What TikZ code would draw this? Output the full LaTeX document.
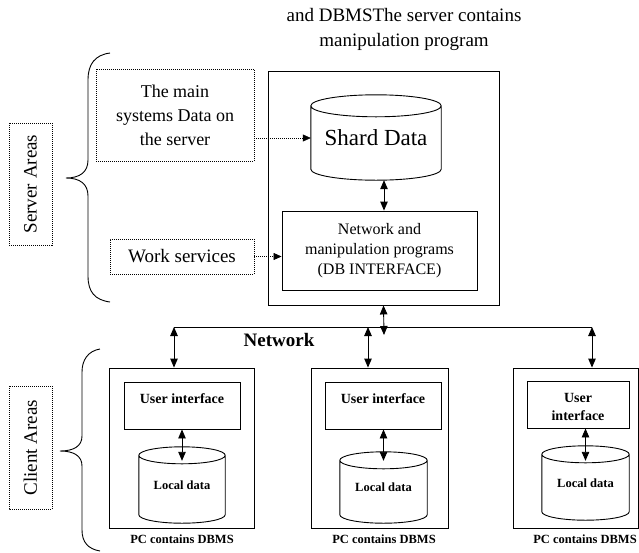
\documentclass[tikz,border=0pt]{standalone}
\usepackage{fontspec}
\setmainfont{Liberation Serif}
\usetikzlibrary{arrows.meta,calc}

% outline of a database cylinder fitted to a named rectangular node
\newcommand\drawcyl[2]{%
  \draw[line width=0.9pt] let \p1=(#1.north west), \p2=(#1.south east), \n1={(\x2-\x1)/2} in
    (\x1,\y1-#2pt) -- (\x1,\y2+#2pt)
    arc[start angle=180,end angle=360,x radius=\n1,y radius=#2pt] -- (\x2,\y1-#2pt)
    (\x1+\n1,\y1-#2pt) ellipse[x radius=\n1,y radius=#2pt];}

\begin{document}
\begin{tikzpicture}[x=1pt,y=-1pt,
  box/.style={draw,line width=0.9pt,inner sep=0pt},
  dotbox/.style={draw,line width=0.6pt,dash pattern=on 1pt off 1pt,inner sep=0pt,align=center},
  cylbox/.style={inner sep=0pt},
  tip/.tip={Triangle[length=9pt,width=7.5pt]},
  dtip/.tip={Triangle[length=8pt,width=7pt]},
  dbl/.style={line width=0.9pt,tip-tip},
  dotarrow/.style={line width=0.6pt,dash pattern=on 1pt off 1pt,-dtip},
  big/.style={font=\fontsize{19}{24}\selectfont},
  mid/.style={font=\fontsize{16}{20}\selectfont,align=center},
  bsmall/.style={font=\bfseries\fontsize{14}{18}\selectfont,align=center},
  bcap/.style={font=\bfseries\fontsize{12.5}{15}\selectfont},
  brace/.style={line width=0.9pt}]

\useasboundingbox (0,0) rectangle (639,552);

% heading
\node[align=center,font=\fontsize{19}{25}\selectfont] (title) at (404,29)
  {and DBMSThe server contains\\manipulation program};

% side labels
\node[dotbox,big,rotate=90,minimum width=122,minimum height=43] (srvarea) at (30.5,184) {Server Areas};
\node[dotbox,big,rotate=90,minimum width=123,minimum height=43] (cliarea) at (30.5,447.5) {Client Areas};

% braces
\draw[brace] (110,53) .. controls (95,55) and (88,64) .. (88,80) -- (88,160)
  .. controls (88,172) and (80,178) .. (66,178)
  .. controls (80,178) and (88,184) .. (88,196) -- (88,276)
  .. controls (88,292) and (95,300) .. (110,302);
\draw[brace] (100,349) .. controls (88,351) and (82,360) .. (82,372) -- (82,436)
  .. controls (82,446) and (74,451) .. (60,451)
  .. controls (74,451) and (82,456) .. (82,466) -- (82,530)
  .. controls (82,542) and (88,549) .. (100,551);

% server side
\node[dotbox,font=\fontsize{18}{24}\selectfont,minimum width=158,minimum height=92] (maindata) at (175,115)
  {The main\\systems Data on\\the server};
\node[dotbox,big,minimum width=144,minimum height=35] (work) at (182,256.5) {Work services};

\node[box,minimum width=231,minimum height=234] (srv) at (383.5,188) {};
\node[cylbox,minimum width=130,minimum height=85,font=\fontsize{23}{27}\selectfont] (shard) at (376,137.5) {\raisebox{-4pt}{Shard Data}};
\drawcyl{shard}{11}
\node[box,mid,minimum width=195,minimum height=79] (iface) at (379.5,250.5)
  {Network and\\manipulation programs\\(DB INTERFACE)};

\draw[dbl] (iface.north -| 384,0) -- (shard.south -| 384,0);
\draw[dotarrow] (maindata.east |- 0,138) -- (shard.west |- 0,138);
\draw[dotarrow] (work.east) -- (iface.west |- work.east);

% network bus
\coordinate (netL) at (174,327);
\coordinate (netR) at (592,327);
\coordinate (netM) at (368,327);
\coordinate (netS) at (384,335);
\draw[line width=0.9pt] (netL) -- (netR);
\draw[dbl] (srv.south) -- (netS);
\node[font=\bfseries\fontsize{19}{23}\selectfont] (netlabel) at (279,340) {Network};

% client machines
\node[box,minimum width=145,minimum height=160] (c1) at (181.5,448) {};
\node[box,minimum width=137,minimum height=160] (c2) at (379.5,448) {};
\node[box,minimum width=125,minimum height=160] (c3) at (575.5,448) {};

\draw[dbl] (netL) -- (netL |- c1.north);
\draw[dbl] (netM) -- (netM |- c2.north);
\draw[dbl] (netR) -- (netR |- c3.north);

\node[box,minimum width=116,minimum height=47] (u1) at (182,405.5) {};
\node[box,minimum width=116,minimum height=47] (u2) at (383,405.5) {};
\node[box,minimum width=102,minimum height=47] (u3) at (578,404.5) {};
\node[bsmall] (u1t) at (182,399) {User interface};
\node[bsmall] (u2t) at (383,399) {User interface};
\node[bsmall] (u3t) at (578,407) {User\\interface};

\node[cylbox,minimum width=86,minimum height=76,bcap] (l1) at (182,485) {\raisebox{-2pt}{Local data}};
\node[cylbox,minimum width=87,minimum height=71,bcap] (l2) at (383.5,487.5) {\raisebox{-4pt}{Local data}};
\node[cylbox,minimum width=87,minimum height=74,bcap] (l3) at (585.5,483) {Local data};
\drawcyl{l1}{8.5}
\drawcyl{l2}{8.5}
\drawcyl{l3}{8.5}

\draw[dbl] (u1.south -| l1.north) -- ([yshift=-14pt]l1.north);
\draw[dbl] (u2.south -| l2.north) -- ([yshift=-9pt]l2.north);
\draw[dbl] (u3.south -| l3.north) -- ([yshift=-15pt]l3.north);

\node[bcap] (p1) at (182,539) {PC contains DBMS};
\node[bcap] (p2) at (384,539) {PC contains DBMS};
\node[bcap] (p3) at (585,539) {PC contains DBMS};
\end{tikzpicture}
\end{document}
